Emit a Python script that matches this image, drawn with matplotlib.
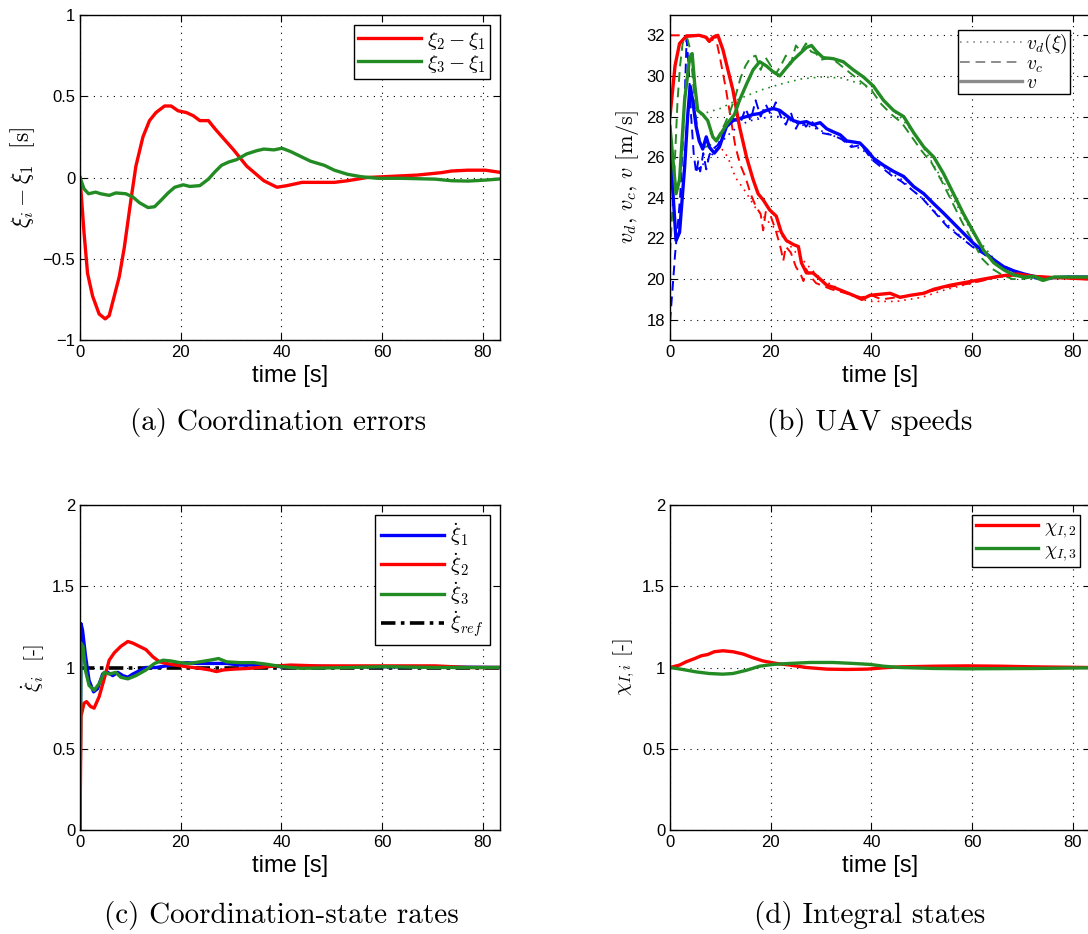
import numpy as np
import matplotlib
matplotlib.use("Agg")
import matplotlib.pyplot as plt

plt.rcParams["font.family"] = ["Liberation Sans", "DejaVu Sans"]
plt.rcParams["mathtext.fontset"] = "cm"

RED = "#ff0000"
GREEN = "#238b23"
BLUE = "#0000ff"

## (a) coordination errors
t_e2 = [0, 0.8, 1.5, 2.5, 3.8, 5, 5.8, 6.8, 7.8, 8.8, 10.1, 11.1, 12.5, 13.8, 15.1, 16.8, 18.1, 19.5,
        21.1, 22.5, 23.8, 25.5, 26.8, 28.5, 30.5, 33.1, 36.5, 39.1, 41.1, 44.1, 47.1, 50.5, 53.1, 57,
        60.5, 67, 71.8, 73.8, 77, 80.5, 83.8]
e2 = [0, -0.34, -0.59, -0.73, -0.84, -0.87, -0.85, -0.73, -0.61, -0.43, -0.14, 0.07, 0.25, 0.35, 0.40,
      0.44, 0.44, 0.41, 0.40, 0.38, 0.35, 0.35, 0.30, 0.24, 0.17, 0.07, -0.02, -0.06, -0.05, -0.03,
      -0.03, -0.03, -0.02, 0.0, 0.005, 0.015, 0.03, 0.04, 0.045, 0.045, 0.03]
t_e3 = [0, 0.8, 1.7, 3.1, 4.1, 5.8, 7.1, 9.1, 10.5, 11.8, 13.5, 14.8, 16.1, 17.5, 18.8, 20.5, 21.8,
        23.8, 25.5, 26.8, 28.1, 29.5, 31.1, 33.1, 35.1, 36.5, 38.5, 40.1, 41.8, 43.8, 45.8, 48.5, 50.5,
        53.1, 55.8, 59.1, 63.8, 70.5, 73.8, 77.1, 80.5, 83.8]
e3 = [0, -0.07, -0.10, -0.09, -0.10, -0.11, -0.095, -0.10, -0.12, -0.155, -0.185, -0.18, -0.14, -0.095,
      -0.06, -0.045, -0.055, -0.05, -0.01, 0.035, 0.075, 0.095, 0.11, 0.145, 0.165, 0.175, 0.17, 0.18,
      0.16, 0.13, 0.10, 0.075, 0.045, 0.02, 0.005, -0.005, -0.005, -0.01, -0.02, -0.022, -0.016, -0.008]

## (b) UAV speeds: desired (vd), commanded (vc), actual (v)
t_v1 = [0, 1.2, 1.9, 2.9, 3.5, 4, 4.5, 5.2, 5.8, 6.5, 7.2, 7.8, 8.8, 9.8, 11.2, 12.5, 13.8, 15.2, 16.5,
        17.8, 19.1, 20.5, 21.8, 23.1, 24.5, 25.8, 27.1, 28.4, 29.8, 31.1, 32.4, 33.8, 35.1, 36.4, 37.7,
        39.1, 40.4, 42.4, 44.4, 46.4, 48.4, 50.4, 52.4, 54.3, 56.3, 58.3, 60.3, 62.3, 64.3, 66.3, 68.3,
        70.3, 72.3, 74.3, 79, 83.4]
v1 = [26.5, 21.9, 22.3, 25.5, 28, 29.5, 28.8, 27.5, 26.8, 26.4, 27, 26.5, 26.2, 26.5, 27.5, 27.8, 27.9,
      28, 28.1, 28.15, 28.3, 28.4, 28.3, 28.05, 27.8, 27.7, 27.75, 27.6, 27.7, 27.4, 27.25, 27.1, 26.8,
      26.75, 26.7, 26.35, 25.95, 25.6, 25.3, 25.05, 24.55, 24.2, 23.7, 23.25, 22.75, 22.25, 21.75, 21.35,
      20.95, 20.6, 20.4, 20.25, 20.13, 20.05, 20.1, 20.1]
t_v2 = [0, 1.0, 1.9, 3.2, 5.8, 7.2, 7.8, 8.5, 9.5, 10.5, 11.5, 12.5, 13.8, 15.2, 16.5, 17.5, 18.5, 19.8,
        21.1, 22.1, 23.1, 24.5, 25.5, 26.1, 27.1, 28.4, 29.8, 31.1, 32.4, 34.4, 36.4, 38.1, 39.7, 41.7,
        43.7, 45.7, 47.7, 50.4, 52.4, 55.7, 59, 62.3, 65.6, 69, 72.3, 75.6, 79, 83.4]
v2 = [28, 30.5, 31.6, 31.95, 32, 31.9, 31.7, 31.9, 32, 31.3, 30.3, 29.3, 27.5, 26, 24.9, 24.2, 23.9, 23.4,
      23.1, 22.3, 21.9, 21.7, 21.6, 20.8, 20.3, 20.3, 20.0, 19.7, 19.6, 19.4, 19.2, 19.0, 19.2, 19.25,
      19.3, 19.1, 19.2, 19.3, 19.5, 19.7, 19.85, 20.0, 20.15, 20.25, 20.13, 20.08, 20.05, 20.0]
t_v3 = [0, 1.2, 1.9, 2.9, 3.9, 4.4, 4.9, 5.5, 6.5, 7.5, 8.5, 9.2, 10.2, 11.5, 12.8, 13.8, 15.2, 16.5,
        17.8, 19.1, 20.5, 21.8, 23.1, 24.5, 25.8, 27.1, 28.1, 29.1, 30.4, 32.4, 34.4, 36.4, 38.4, 40.4,
        42.4, 44.4, 46.4, 48.4, 50.4, 52.4, 54.3, 56.3, 58.3, 60.3, 62.3, 64.3, 66.3, 68.3, 70.3, 72.3,
        74.3, 76.3, 83.4]
v3 = [27.5, 24.2, 24.9, 28.8, 30.9, 31.1, 29.6, 28.3, 28.1, 27.8, 27.0, 26.8, 27.2, 27.7, 28.1, 28.8,
      29.6, 30.3, 30.7, 30.5, 30.2, 30.0, 30.4, 30.8, 31.1, 31.4, 31.5, 31.2, 30.9, 30.85, 30.7, 30.3,
      29.95, 29.5, 28.8, 28.3, 28.0, 27.2, 26.5, 26.0, 25.2, 24.2, 23.2, 22.3, 21.4, 20.8, 20.45, 20.2,
      20.1, 20.13, 19.95, 20.1, 20.1]

t_vc1 = [0, 0.5, 1, 1.5, 2, 2.5, 3, 3.3, 3.7, 4.2, 4.7, 5.2, 5.6, 6, 6.6, 7.2, 7.8, 8.5, 9.5, 11, 12.5,
         14, 15, 16, 17, 18, 19, 20, 21, 22, 23, 24, 25, 26, 27, 28, 30, 32, 34, 36, 38, 40, 42, 44, 46,
         48, 50, 55, 60, 65, 70, 73, 76, 83.4]
vc1 = [17.9, 19.5, 21.2, 22.5, 24, 26.5, 29.5, 31.8, 30.5, 28, 26.2, 25.2, 25.8, 25.3, 26.2, 25.4, 26.1,
       26.4, 26.6, 27.4, 27.9, 27.7, 28.4, 27.8, 28.8, 28.0, 28.6, 28.1, 28.7, 28.0, 27.6, 28.2, 27.4,
       27.9, 27.5, 27.8, 27.2, 27.1, 26.9, 26.5, 26.6, 25.9, 25.5, 25.1, 24.8, 24.4, 24.0, 22.6, 21.6,
       20.8, 20.2, 20.0, 20.1, 20.1]
t_vc2 = [0, 2, 4, 6, 7, 8, 9, 10, 11, 12, 13, 14, 15, 16, 17, 18, 18.5, 19, 20, 21, 22, 22.5, 23, 24, 25,
         26, 26.5, 27, 28, 29, 30, 32, 35, 38, 40, 42, 45, 48, 50, 55, 60, 65, 70, 75, 83.4]
vc2 = [32, 32, 32, 32, 31.9, 31.6, 32, 30.8, 29.5, 28, 26.5, 25.6, 25, 24.2, 23.6, 23.2, 22.4, 23.3,
       23.1, 22.4, 21.5, 20.9, 21.6, 21.3, 20.6, 20.2, 19.9, 20.5, 20.1, 19.8, 19.7, 19.5, 19.3, 19.1,
       19.2, 19.0, 19.1, 19.2, 19.3, 19.6, 19.8, 20.1, 20.2, 20.1, 20.0]
t_vc3 = [0, 0.5, 1, 1.5, 2, 2.5, 3, 3.5, 4, 4.5, 5, 5.5, 6, 7, 8, 9, 10, 11, 12, 13, 14, 15, 16, 17, 18,
         19, 20, 21, 22, 23, 24, 25, 26, 27, 28, 29, 30, 32, 34, 36, 38, 40, 42, 44, 46, 48, 50, 52, 54,
         56, 58, 60, 62, 64, 66, 68, 70, 72, 74, 76, 83.4]
vc3 = [21.3, 23.5, 26, 28.8, 30.5, 31.6, 31.9, 31.8, 31.3, 30, 28.3, 27.2, 26.8, 26.5, 26.6, 26.8, 27.2,
       27.7, 28.3, 29, 29.9, 30.5, 30.9, 31.0, 30.3, 30.9, 30.5, 30.1, 30.5, 31.0, 30.6, 31.5, 31.2, 31.6,
       31.2, 31.1, 30.8, 30.9, 30.5, 30.1, 29.7, 29.3, 28.6, 28.1, 27.7, 27.0, 26.3, 25.7, 24.8, 23.8,
       22.8, 21.9, 21.0, 20.5, 20.2, 20.0, 20.0, 20.1, 19.9, 20.1, 20.1]

t_vd1 = [5.5, 8, 10, 12, 14, 16, 18, 20, 22, 24, 26, 28, 30, 32, 34, 36, 38, 40, 42, 44, 46, 48, 50,
         55, 60, 65, 70, 73, 76, 83.4]
vd1 = [25.4, 26.0, 26.7, 27.2, 27.6, 27.8, 27.9, 28.0, 28.0, 27.8, 27.6, 27.5, 27.3, 27.1, 26.9, 26.6,
       26.4, 26.0, 25.6, 25.2, 24.9, 24.4, 24.0, 22.7, 21.6, 20.8, 20.2, 20.0, 20.05, 20.05]
t_vd2 = [8, 10, 11.5, 13, 15, 17, 20, 22, 25, 28, 30, 33, 35, 38, 40, 45, 50, 55, 60, 65, 70, 75, 83.4]
vd2 = [27.2, 26.5, 26.0, 25.0, 24.3, 23.5, 22.7, 22.2, 21.3, 20.5, 20.0, 19.6, 19.3, 19.0, 18.9, 18.9,
       19.1, 19.5, 19.8, 20.1, 20.15, 20.05, 20.0]
t_vd3 = [6, 10, 14, 18, 22, 26, 30, 34, 38, 41, 44, 46, 48, 50, 55, 60, 65, 70, 73, 76, 83.4]
vd3 = [28.1, 28.4, 28.9, 29.3, 29.6, 29.85, 29.95, 29.9, 29.6, 29.2, 28.4, 27.9, 27.3, 26.6, 24.5, 22.3,
       20.8, 20.1, 20.0, 20.05, 20.05]

## (c) coordination-state rates
t_r1 = [0, 0.2, 0.5, 1.1, 1.8, 2.7, 3.5, 4.5, 5.5, 6.5, 7.5, 8.5, 9.5, 10.5, 11.8, 13.1, 15.1, 17.1,
        19.1, 21.1, 23.1, 25.8, 29.1, 31.8, 34.5, 37.1, 40.1, 43.8, 50.5, 63.8, 83.8]
r1 = [0, 1.27, 1.23, 1.07, 0.92, 0.85, 0.87, 0.96, 0.97, 0.95, 0.97, 0.95, 0.94, 0.96, 0.98, 1.0, 1.0,
      1.01, 1.02, 1.03, 1.025, 1.025, 1.025, 1.015, 1.015, 1.01, 1.005, 1.01, 1.005, 1.005, 1.0]
t_r2 = [0, 0.2, 0.8, 1.3, 2.1, 2.8, 3.8, 4.8, 5.8, 6.8, 8.1, 9.5, 10.5, 11.8, 13.1, 14.5, 15.8, 17.1,
        19.1, 21.1, 23.8, 25.8, 27.1, 28.5, 30.5, 33.8, 37.1, 41.8, 47.1, 53.8, 60.5, 70.5, 77.1, 83.8]
r2 = [0, 0.70, 0.78, 0.79, 0.76, 0.75, 0.82, 0.93, 1.045, 1.09, 1.13, 1.16, 1.15, 1.13, 1.11, 1.065,
      1.035, 1.025, 1.015, 1.005, 0.995, 0.985, 0.975, 0.985, 0.99, 0.995, 1.005, 1.015, 1.01, 1.01, 1.01,
      1.01, 1.0, 1.0]
t_r3 = [0, 0.2, 0.6, 1.1, 1.8, 2.8, 3.8, 4.8, 5.8, 7.1, 8.1, 9.5, 11.1, 13.1, 14.8, 16.5, 18.1, 19.8,
        21.8, 23.8, 25.8, 27.5, 29.1, 31.8, 34.5, 37.1, 40.1, 43.8, 50.5, 60.5, 70.5, 83.8]
r3 = [0, 1.15, 1.13, 0.98, 0.89, 0.86, 0.90, 0.97, 0.96, 0.97, 0.94, 0.93, 0.95, 0.985, 1.025, 1.045,
      1.04, 1.03, 1.025, 1.035, 1.045, 1.055, 1.035, 1.03, 1.03, 1.02, 1.005, 0.995, 0.998, 1.005, 1.0, 1.0]
t_ref = [0, 83.8]
r_ref = [1, 1]

## (d) integral states
t_c2 = [0, 1.9, 3.2, 4.9, 6.2, 7.5, 8.8, 10.5, 12.5, 14.5, 16.5, 18.5, 21.1, 23.8, 27.1, 31.1, 35.1,
        39.1, 42.4, 45.7, 52.4, 59, 65.6, 72.3, 83.4]
c2 = [1, 1.015, 1.035, 1.055, 1.072, 1.08, 1.097, 1.103, 1.097, 1.083, 1.06, 1.04, 1.025, 1.015, 1.0,
      0.99, 0.988, 0.99, 0.998, 1.004, 1.008, 1.01, 1.008, 1.004, 1.0]
t_c3 = [0, 2.5, 5.2, 7.8, 10.5, 12.5, 15.2, 17.8, 20.5, 23.8, 27.8, 32.4, 36.4, 39.7, 42.4, 45.7, 52.4,
        59, 72.3, 83.4]
c3 = [1, 0.988, 0.973, 0.963, 0.959, 0.963, 0.983, 1.008, 1.019, 1.025, 1.031, 1.031, 1.025, 1.019,
      1.008, 1.0, 0.994, 0.992, 0.994, 0.998]

fig = plt.figure(figsize=(10.88, 9.34), dpi=100)
W, H = 1088, 934


def make_ax(x0, y_top):
    ax = fig.add_axes([x0 / W, (H - y_top - 325) / H, 420 / W, 325 / H])
    ax.set_xlim(0, 83.4)
    ax.set_xticks([0, 20, 40, 60, 80])
    ax.grid(True, color="k", linestyle=(0, (1, 5)), linewidth=0.8)
    ax.tick_params(direction="in", top=True, right=True, length=5, labelsize=12, width=0.8)
    for s in ax.spines.values():
        s.set_linewidth(1.0)
    ax.set_xlabel("time [s]", fontsize=17, labelpad=4)
    return ax


def box_legend(ax, **kw):
    leg = ax.legend(loc="upper right", fancybox=False, edgecolor="k", framealpha=1, **kw)
    leg.get_frame().set_linewidth(1.0)
    return leg


lw = 2.4
ylab = dict(family=["cmr10", "DejaVu Serif"])

ax = make_ax(80, 15)
ax.plot(t_e2, e2, color=RED, lw=lw, label=r"$\xi_2 - \xi_1$")
ax.plot(t_e3, e3, color=GREEN, lw=lw, label=r"$\xi_3 - \xi_1$")
ax.set_ylim(-1, 1)
ax.set_yticks([-1, -0.5, 0, 0.5, 1])
ax.set_yticklabels(["\u22121", "\u22120.5", "0", "0.5", "1"])
ax.set_ylabel(r"$\xi_i - \xi_1$  [s]", fontsize=17, **ylab)
box_legend(ax, fontsize=15, handlelength=3, labelspacing=0.05, borderpad=0.2, handletextpad=0.3,
           borderaxespad=0.5)

ax = make_ax(670, 15)
for tt, vv, c in [(t_vd1, vd1, BLUE), (t_vd2, vd2, RED), (t_vd3, vd3, GREEN)]:
    ax.plot(tt, vv, color=c, lw=1.2, linestyle=(0, (1, 3)))
for tt, vv, c in [(t_vc1, vc1, BLUE), (t_vc2, vc2, RED), (t_vc3, vc3, GREEN)]:
    ax.plot(tt, vv, color=c, lw=1.4, linestyle=(0, (5, 3)))
for tt, vv, c in [(t_v1, v1, BLUE), (t_v2, v2, RED), (t_v3, v3, GREEN)]:
    ax.plot(tt, vv, color=c, lw=lw)
ax.set_ylim(17, 33)
ax.set_yticks(np.arange(18, 33, 2))
ax.set_ylabel(r"$v_d,\, v_c,\, v$ [m/s]", fontsize=16, **ylab)
h1, = ax.plot([], [], color="#8c8c8c", lw=1.2, linestyle=(0, (1, 3)), label=r"$v_d(\xi)$")
h2, = ax.plot([], [], color="#8c8c8c", lw=1.4, linestyle=(0, (5, 3)), label=r"$v_c$")
h3, = ax.plot([], [], color="#8c8c8c", lw=lw, label=r"$v$")
box_legend(ax, handles=[h1, h2, h3], fontsize=14, handlelength=3.2, labelspacing=0.0, borderpad=0.1,
           handletextpad=0.2, bbox_to_anchor=(0.975, 0.985))

ax = make_ax(80, 505)
ax.plot(t_r1, r1, color=BLUE, lw=lw, label=r"$\dot{\xi}_1$")
ax.plot(t_r2, r2, color=RED, lw=lw, label=r"$\dot{\xi}_2$")
ax.plot(t_r3, r3, color=GREEN, lw=lw, label=r"$\dot{\xi}_3$")
ax.plot(t_ref, r_ref, color="k", lw=2.6, linestyle=(0, (4, 1.5, 1, 1.5)), label=r"$\dot{\xi}_{ref}$",
        zorder=1.5)
ax.set_ylim(0, 2)
ax.set_yticks([0, 0.5, 1, 1.5, 2])
ax.set_yticklabels(["0", "0.5", "1", "1.5", "2"])
ax.set_ylabel(r"$\dot{\xi}_i$  [-]", fontsize=15, **ylab)
box_legend(ax, fontsize=15, handlelength=3, labelspacing=0.12, borderpad=0.3, handletextpad=0.3,
           borderaxespad=0.5)

ax = make_ax(670, 505)
ax.plot(t_c2, c2, color=RED, lw=lw, label=r"$\chi_{I,2}$")
ax.plot(t_c3, c3, color=GREEN, lw=lw, label=r"$\chi_{I,3}$")
ax.set_ylim(0, 2)
ax.set_yticks([0, 0.5, 1, 1.5, 2])
ax.set_yticklabels(["0", "0.5", "1", "1.5", "2"])
ax.set_ylabel(r"$\chi_{I,i}$ [-]", fontsize=15, **ylab)
box_legend(ax, fontsize=14, handlelength=3.2, labelspacing=0.05, borderpad=0.2, handletextpad=0.3,
           borderaxespad=0.5)

cap = dict(fontsize=21, family="cmr10", ha="center", va="center")
fig.text(278 / W, 1 - 422 / H, "(a) Coordination errors", **cap)
fig.text(870 / W, 1 - 422 / H, "(b) UAV speeds", **cap)
fig.text(281 / W, 1 - 915 / H, "(c) Coordination-state rates", **cap)
fig.text(870 / W, 1 - 915 / H, "(d) Integral states", **cap)

fig.savefig("out.png", dpi=100)
